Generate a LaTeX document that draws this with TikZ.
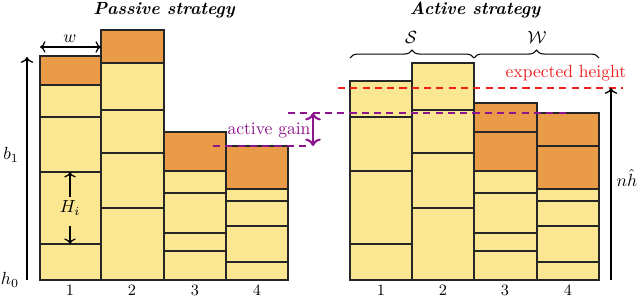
\documentclass[tikz,border=0pt]{standalone}
\usetikzlibrary{decorations.pathreplacing,arrows.meta}
\definecolor{cyel}{RGB}{251,230,145}
\definecolor{corg}{RGB}{233,155,72}
\definecolor{cpur}{RGB}{140,20,140}
\definecolor{cred}{RGB}{240,30,30}
\begin{document}
\begin{tikzpicture}[x=0.02cm,y=-0.02cm,
  cell/.style={draw=black!85,line width=0.6pt},
  axisarrow/.style={->,line width=0.8pt},
  pdash/.style={cpur,line width=1.3pt,dash pattern=on 4pt off 3pt},
  rdash/.style={cred,line width=1.3pt,dash pattern=on 4pt off 3pt},
  lbl/.style={inner sep=1pt},
  title/.style={inner sep=1pt,font=\bfseries\itshape},
  num/.style={inner sep=1pt,font=\small}]
\useasboundingbox (0,0) rectangle (640,296);
% passive cells
\foreach \xa/\xb/\ya/\yb/\c in {
 40/101/56/85/corg, 40/101/85/117/cyel, 40/101/117/172/cyel, 40/101/172/244/cyel, 40/101/244/280/cyel,
 101/164/30/63/corg, 101/164/63/110/cyel, 101/164/110/153/cyel, 101/164/153/208/cyel, 101/164/208/280/cyel,
 164/226/132/171/corg, 164/226/171/193/cyel, 164/226/193/233/cyel, 164/226/233/251/cyel, 164/226/251/280/cyel,
 226/288/146/189/corg, 226/288/189/201/cyel, 226/288/201/226/cyel, 226/288/226/262/cyel, 226/288/262/280/cyel}
 \draw[cell,fill=\c] (\xa,\ya) rectangle (\xb,\yb);
% active cells
\foreach \xa/\xb/\ya/\yb/\c in {
 350/412/81/117/cyel, 350/412/117/171/cyel, 350/412/171/244/cyel, 350/412/244/280/cyel,
 412/474/63/110/cyel, 412/474/110/153/cyel, 412/474/153/208/cyel, 412/474/208/280/cyel,
 474/537/103/132/corg, 474/537/132/171/corg, 474/537/171/193/cyel, 474/537/193/233/cyel, 474/537/233/251/cyel, 474/537/251/280/cyel,
 537/599/113/146/corg, 537/599/146/189/corg, 537/599/189/201/cyel, 537/599/201/226/cyel, 537/599/226/262/cyel, 537/599/262/280/cyel}
 \draw[cell,fill=\c] (\xa,\ya) rectangle (\xb,\yb);
% titles
\node[title] (tp) at (164,10) {Passive strategy};
\node[title] (ta) at (475,10) {Active strategy};
% column numbers
\foreach \x/\n/\nm in {70/1/p1,132/2/p2,195/3/p3,257/4/p4,381/1/a1,443/2/a2,505/3/a3,568/4/a4}
 \node[num] (\nm) at (\x,290) {\n};
% left axis
\coordinate (axb) at (27,280);
\coordinate (axt) at (27,57);
\draw[axisarrow] (axb) -- (axt);
\node[lbl] (b1) at (11,155) {$b_1$};
\node[lbl] (h0) at (10,280) {$h_0$};
% width arrow
\coordinate (wl) at (40,47);
\coordinate (wr) at (101,47);
\draw[<->,line width=0.7pt] (wl) -- (wr);
\node[lbl] (w) at (70,39) {$w$};
% H_i
\node[lbl] (Hi) at (70,208) {$H_i$};
\coordinate (hup) at (70,172);
\coordinate (hdn) at (70,244);
\draw[->,line width=0.7pt] (Hi.north) ++(0,-2) -- (hup);
\draw[->,line width=0.7pt] (70,226) -- (hdn);
% active gain
\coordinate (g1a) at (288,113);
\coordinate (g1b) at (567,113);
\coordinate (g2a) at (213,146);
\coordinate (g2b) at (307,146);
\draw[pdash] (g1a) -- (g1b);
\draw[pdash] (g2a) -- (g2b);
\coordinate (gt) at (313,113);
\coordinate (gb) at (313,146);
\draw[<->,cpur,line width=1.2pt] (gt) -- (gb);
\node[lbl,text=cpur] (ag) at (269,131) {active gain};
% expected height
\coordinate (ra) at (338,88);
\coordinate (rb) at (623,88);
\draw[rdash] (ra) -- (rb);
\node[lbl,text=cred] (eh) at (566,73) {expected height};
% n hat h arrow
\coordinate (nb) at (611,280);
\coordinate (nt) at (611,88);
\draw[axisarrow] (nb) -- (nt);
\node[inner sep=0pt] (nh) at (627,178) {$n\hat{h}$};
% braces
\coordinate (s1) at (350,58);
\coordinate (s2) at (474,58);
\coordinate (s3) at (599,58);
\draw[line width=0.6pt,decorate,decoration={brace,amplitude=4.5pt}] (s1) -- (s2);
\draw[line width=0.6pt,decorate,decoration={brace,amplitude=4.5pt}] (s2) -- (s3);
\node[lbl] (S) at (411,38) {$\mathcal{S}$};
\node[lbl] (W) at (537,38) {$\mathcal{W}$};
\end{tikzpicture}
\end{document}
